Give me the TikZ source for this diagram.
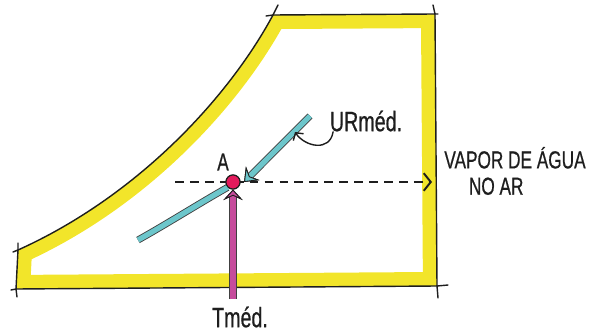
\documentclass[tikz,border=0pt]{standalone}
\usepackage{fontspec}
\setmainfont{Liberation Sans}
\newfontfamily\handfont[FakeStretch=0.7, FakeBold=0.6]{Liberation Sans}
\usetikzlibrary{arrows.meta, positioning}
\definecolor{sketchyellow}{HTML}{F2E52A}
\definecolor{sketchcyan}{HTML}{6CC6CB}
\definecolor{sketchpink}{HTML}{C64C9C}
\definecolor{sketchred}{HTML}{E31B5C}
\definecolor{sketchink}{HTML}{1E1E1E}

\begin{document}
\begin{tikzpicture}[x=0.02cm, y=-0.02cm,
  lbl/.style={font=\handfont\fontsize{16}{17}\selectfont, text=sketchink, inner sep=0pt},
  ink/.style={draw=sketchink, line width=0.8pt, line cap=round, line join=round},
  cyanband/.style={sketchcyan, line width=3pt, preaction={draw=sketchink!85, line width=4pt}},
  cyanarrow/.style={cyanband, -{Stealth[length=7pt, width=11pt, inset=2.5pt, line width=0.5pt, color=sketchink, fill=sketchcyan]}},
  pinkarrow/.style={sketchpink, line width=3.4pt, preaction={draw=sketchink!85, line width=4.4pt},
              -{Stealth[length=6pt, width=11pt, inset=2.5pt, line width=0.5pt, color=sketchink, fill=sketchpink]}},
  dashline/.style={sketchink, line width=1.1pt, dash pattern=on 5pt off 3.5pt,
              -{Straight Barb[length=4pt, width=10pt]}},
  curl/.style={ink, -{Straight Barb[length=3pt, width=7pt]}}]
  \useasboundingbox (0,0) rectangle (591,334);

  % yellow band along the inside of the outline
  \begin{scope}
    \clip (273,15) -- (435,14) -- (437,286) -- (16,289) -- (18,250)
      .. controls (140,195) and (230,95) .. (273,15) -- cycle;
    \draw[sketchyellow, line width=16pt, line join=round]
      (273,15) -- (435,14) -- (437,286) -- (16,289) -- (18,250)
      .. controls (140,195) and (230,95) .. (273,15) -- cycle;
  \end{scope}
  \draw[ink] (273,15) -- (435,14) -- (437,286) -- (16,289) -- (18,250)
    .. controls (140,195) and (230,95) .. (273,15) -- cycle;
  % sketchy corner overshoots
  \draw[ink] (273,15) -- (278,5) (273,15) -- (266,16);
  \draw[ink] (435,14) -- (433,5) (435,14) -- (438,14);
  \draw[ink] (437,286) -- (438,298) (437,286) -- (448,285);
  \draw[ink] (16,289) -- (17,297) (16,289) -- (11,290);
  \draw[ink] (18,250) -- (18,243) (18,250) -- (13,252);

  % point and labels
  \node[circle, fill=sketchred, draw=sketchink, line width=0.6pt, minimum size=8pt, inner sep=0pt] (A) at (233,182) {};
  \node[lbl, font=\handfont\fontsize{14}{15}\selectfont] (lblA) at (223,162) {A};
  \node[lbl] (urmed) at (366,121) {URméd.};
  \node[lbl, font=\handfont\fontsize{14}{15}\selectfont, align=left, anchor=west] (vapor) at (444,171)
    {VAPOR DE ÁGUA\\\hspace*{14pt}NO AR};
  \node[lbl] (tmed) at (240,317) {Tméd.};
  \coordinate (dashstart) at (175,182);
  \coordinate (dashend) at (432,182);
  \coordinate (urtop) at (310,116);
  \coordinate (cyanend) at (138,240);
  \path (tmed.north -| A) ++(0,-7) coordinate (tbase);

  % lines
  \draw[cyanband] (A.south west) .. controls (200,203) and (165,225) .. (cyanend);
  \draw[cyanarrow] (urtop) .. controls (290,136) and (268,158) .. ([xshift=2pt]A.east);
  \draw[dashline] (dashstart) -- (dashend);
  \draw[pinkarrow] (tbase) -- (A.south);
  \node[circle, fill=sketchred, draw=sketchink, line width=0.6pt, minimum size=8pt, inner sep=0pt] at (A) {};
  \draw[curl] ([xshift=2pt]urmed.south west) .. controls (330,152) and (305,147) .. (295,132);
\end{tikzpicture}
\end{document}
